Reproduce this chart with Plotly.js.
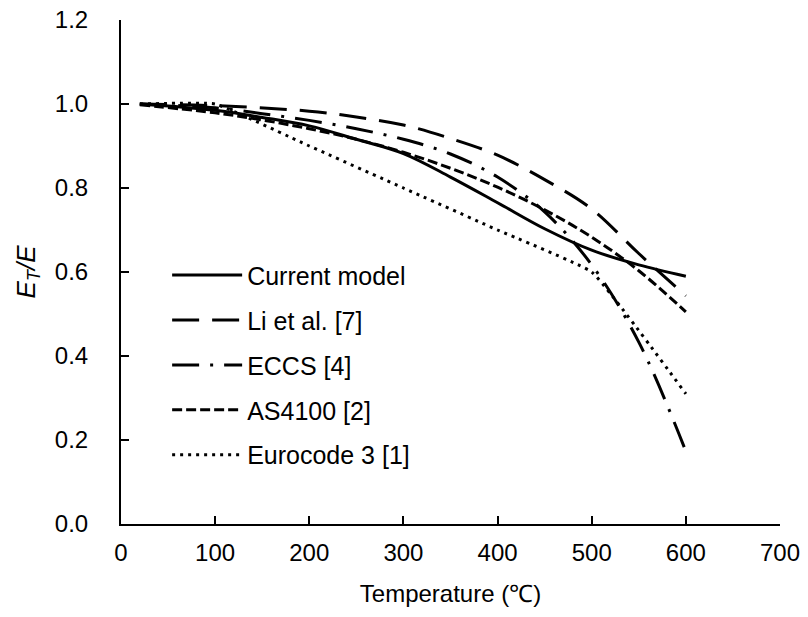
<!DOCTYPE html>
<html>
<head>
<meta charset="utf-8">
<script src="https://cdn.plot.ly/plotly-3.0.1.min.js"></script>
<style>html,body{margin:0;padding:0;background:#fff;}#chart{width:808px;height:617px;}</style>
</head>
<body>
<div id="chart"></div>
<script>
// Temperatures (°C) and E_T/E ratios
const tempCurrent = [20, 100, 150, 200, 250, 300, 350, 400, 450, 500, 550, 600];
const currentModel = [1.0, 0.985, 0.968, 0.948, 0.916, 0.882, 0.826, 0.765, 0.703, 0.652, 0.617, 0.590];

const tempLi = [20, 100, 200, 250, 300, 350, 400, 450, 500, 550, 600];
const liEtAl = [1.0, 0.996, 0.983, 0.969, 0.950, 0.918, 0.878, 0.820, 0.750, 0.644, 0.543];

const tempECCS = [20, 100, 150, 200, 250, 300, 350, 400, 450, 500, 550, 600];
const eccs = [1.0, 0.991, 0.977, 0.961, 0.941, 0.916, 0.881, 0.826, 0.743, 0.617, 0.433, 0.173];

const tempAS = [20, 100, 150, 200, 250, 300, 350, 400, 450, 500, 550, 600];
const as4100 = [0.998, 0.979, 0.962, 0.941, 0.916, 0.885, 0.847, 0.802, 0.748, 0.683, 0.603, 0.505];

const tempEC3 = [20, 100, 200, 300, 400, 500, 600];
const eurocode3 = [1.0, 1.0, 0.9, 0.8, 0.7, 0.6, 0.31];

const names = ["Current model", "Li et al. [7]", "ECCS [4]", "AS4100 [2]", "Eurocode 3 [1]"];
const xTicks = [0, 100, 200, 300, 400, 500, 600, 700];
const yTicks = [0, 0.2, 0.4, 0.6, 0.8, 1.0, 1.2];

const FONT = "Liberation Sans, Arial, Helvetica, sans-serif";
const series = [
  {x: tempCurrent, y: currentModel, dash: "solid", smooth: 1},
  {x: tempLi, y: liEtAl, dash: "27px,13px", smooth: 1},
  {x: tempECCS, y: eccs, dash: "27px,11px,3px,11px", smooth: 1},
  {x: tempAS, y: as4100, dash: "10px,4px", smooth: 1},
  {x: tempEC3, y: eurocode3, dash: "3px,5px", smooth: 0.3}
];

const traces = series.map((s, i) => ({
  type: "scatter",
  mode: "lines",
  x: s.x,
  y: s.y,
  name: names[i],
  legendgroup: "g" + i,
  line: {color: "#000", width: 3, dash: s.dash, shape: "spline", smoothing: s.smooth},
  hoverinfo: "skip"
}));

const layout = {
  width: 808,
  height: 617,
  margin: {l: 121, r: 28, t: 20, b: 93, pad: 0},
  paper_bgcolor: "#fff",
  plot_bgcolor: "#fff",
  font: {family: FONT, color: "#000", size: 24},
  showlegend: true,
  legend: {
    x: 0.07, y: 0.539, xanchor: "left", yanchor: "top",
    bgcolor: "rgba(0,0,0,0)",
    font: {family: FONT, size: 25, color: "#000"},
    itemwidth: 70,
    tracegroupgap: 9.4,
    traceorder: "grouped"
  },
  xaxis: {
    range: [0, 700],
    tickvals: xTicks,
    ticktext: xTicks.map(String),
    ticks: "inside", ticklen: 8, tickwidth: 2, tickcolor: "#000",
    showline: true, linewidth: 2, linecolor: "#000",
    showgrid: false, zeroline: false,
    tickfont: {family: FONT, size: 24, color: "#000"},
    ticklabelstandoff: 6,
    title: {text: "Temperature (\u2103)", font: {family: FONT, size: 24, color: "#000"}, standoff: 20}
  },
  yaxis: {
    range: [0, 1.2],
    tickvals: yTicks,
    ticktext: yTicks.map(v => v.toFixed(1)),
    ticks: "inside", ticklen: 8, tickwidth: 2, tickcolor: "#000",
    showline: true, linewidth: 2, linecolor: "#000",
    showgrid: false, zeroline: false,
    tickfont: {family: FONT, size: 24, color: "#000"},
    ticklabelstandoff: 26,
    title: {text: "<i>E</i><sub><i>T</i></sub><i>/E</i>", font: {family: FONT, size: 26, color: "#000"}, standoff: 12}
  }
};

Plotly.newPlot("chart", traces, layout, {staticPlot: true, displayModeBar: false});
</script>
</body>
</html>
